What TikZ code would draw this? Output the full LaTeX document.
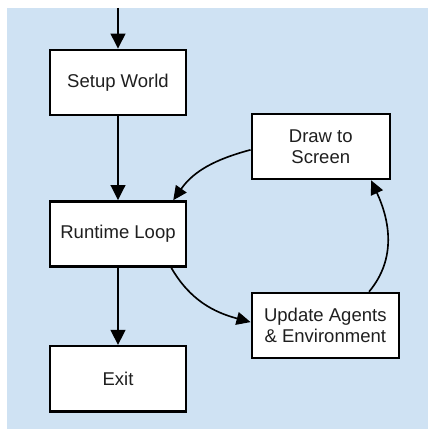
\documentclass[tikz,border=0pt]{standalone}
\usepackage{fontspec}
\setmainfont{Liberation Sans}
\usetikzlibrary{positioning, arrows.meta}
\definecolor{sheet}{RGB}{207,226,243}

\begin{document}
\begin{tikzpicture}[x=0.03cm, y=-0.03cm,
    block/.style={draw, line width=2.1pt, fill=white, minimum width=4.08cm,
      minimum height=1.95cm, inner sep=0pt, align=center,
      font=\fontsize{15.8}{18}\selectfont, text=black!88},
    flow/.style={-{Triangle[length=13pt, width=12.5pt]}, line width=1.9pt},
    loopback/.style={-{Triangle[length=12pt, width=11pt]}, line width=1.4pt}]
  \useasboundingbox (0,0) rectangle (428,429);
  \fill[sheet] (7,8) rectangle (428,429);

  % main column
  \node[block] (setup) at (118,82.5) {Setup World};
  \node[block, below=2.52cm of setup] (runtime) {Runtime Loop};
  \node[block, below=2.32cm of runtime] (exit) {Exit};

  % the loop on the right
  \node[block, minimum width=4.14cm, above right=0.6cm and 1.9cm of runtime] (screen) {Draw to\\Screen};
  \node[block, minimum width=4.41cm, below right=0.72cm and 1.9cm of runtime] (agents) {Update Agents\\\& Environment};

  \coordinate (entry) at (118,8);

  \draw[flow] (entry) -- (setup);
  \draw[flow] (setup) -- (runtime);
  \draw[flow] (runtime) -- (exit);

  \draw[loopback] ([yshift=-0.1cm]screen.west) to[out=195, in=55] ([xshift=-0.42cm]runtime.north east);
  \draw[loopback] ([xshift=-0.48cm]runtime.south east) to[out=-60, in=165] ([yshift=0.1cm]agents.west);
  \draw[loopback] ([xshift=-0.93cm]agents.north east) to[out=50, in=-65] ([xshift=-0.6cm]screen.south east);
\end{tikzpicture}
\end{document}
